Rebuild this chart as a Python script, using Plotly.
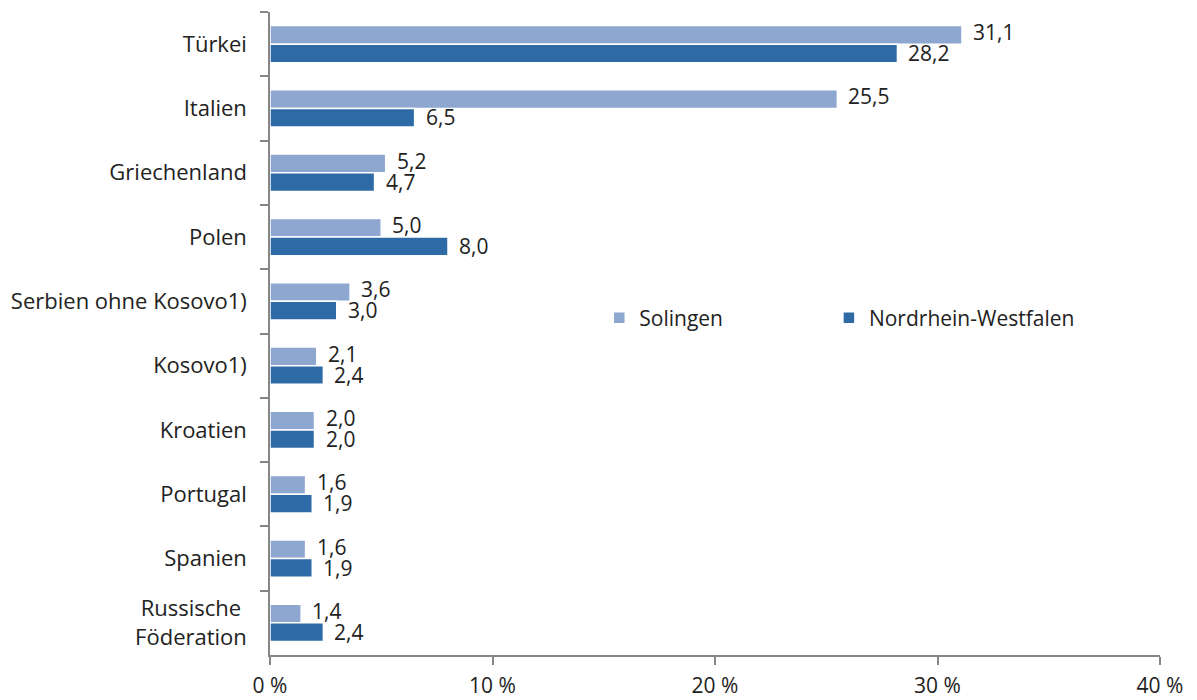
import plotly.graph_objects as go

countries = ['Türkei', 'Italien', 'Griechenland', 'Polen', 'Serbien ohne Kosovo1)',
             'Kosovo1)', 'Kroatien', 'Portugal', 'Spanien', 'Russische <br>Föderation']
solingen = [31.1, 25.5, 5.2, 5.0, 3.6, 2.1, 2.0, 1.6, 1.6, 1.4]
nrw = [28.2, 6.5, 4.7, 8.0, 3.0, 2.4, 2.0, 1.9, 1.9, 2.4]
x_ticks = [0, 10, 20, 30, 40]
x_tick_labels = ['0 %', '10 %', '20 %', '30 %', '40 %']


def fmt(v):
    # deutsche Schreibweise mit Komma
    return f'{v:.1f}'.replace('.', ',')


fig = go.Figure()
fig.add_trace(go.Bar(
    y=countries, x=solingen, name='Solingen', orientation='h',
    marker=dict(color='#8EA7D0', line=dict(color='white', width=1.5)),
    legend='legend'
))
fig.add_trace(go.Bar(
    y=countries, x=nrw, name='Nordrhein-Westfalen', orientation='h',
    marker=dict(color='#2E6BA6', line=dict(color='white', width=1.5)),
    legend='legend2'
))

# Werte als Annotationen, damit sie über den Balken liegen
for c, s, n in zip(countries, solingen, nrw):
    fig.add_annotation(x=s, y=c, text=fmt(s), showarrow=False, xanchor='left',
                       xshift=10, yshift=12, borderpad=0,
                       font=dict(size=21, color='#222222'))
    fig.add_annotation(x=n, y=c, text=fmt(n), showarrow=False, xanchor='left',
                       xshift=10, yshift=-9, borderpad=0,
                       font=dict(size=21, color='#222222'))

# body hat 8px Rand -> Figur etwas kleiner
fig.update_layout(
    width=1181, height=692,
    barmode='group', bargap=0.42, bargroupgap=0,
    paper_bgcolor='white', plot_bgcolor='white',
    font=dict(family='Open Sans, Liberation Sans, sans-serif', size=21, color='#222222'),
    margin=dict(l=262, r=29, t=4, b=45, autoexpand=False),
    showlegend=True,
    legend=dict(x=0.37, y=0.524, xanchor='left', yanchor='middle',
                font=dict(size=21), bgcolor='rgba(0,0,0,0)'),
    legend2=dict(x=0.628, y=0.524, xanchor='left', yanchor='middle',
                 font=dict(size=21), bgcolor='rgba(0,0,0,0)'),
)
fig.update_xaxes(
    range=[0, 40], tickvals=x_ticks, ticktext=x_tick_labels,
    showgrid=False, zeroline=False,
    showline=True, linecolor='#868686', linewidth=1.5,
    ticks='outside', ticklen=8, tickcolor='#868686', tickwidth=1.5,
    tickfont=dict(size=21), ticklabelstandoff=3
)
fig.update_yaxes(
    autorange='reversed', showgrid=False,
    showline=True, linecolor='#868686', linewidth=1.5,
    ticks='outside', tickson='boundaries', ticklen=8, tickcolor='#868686', tickwidth=1.5,
    tickfont=dict(size=22), ticklabelstandoff=17
)

fig.write_html('out.html')
